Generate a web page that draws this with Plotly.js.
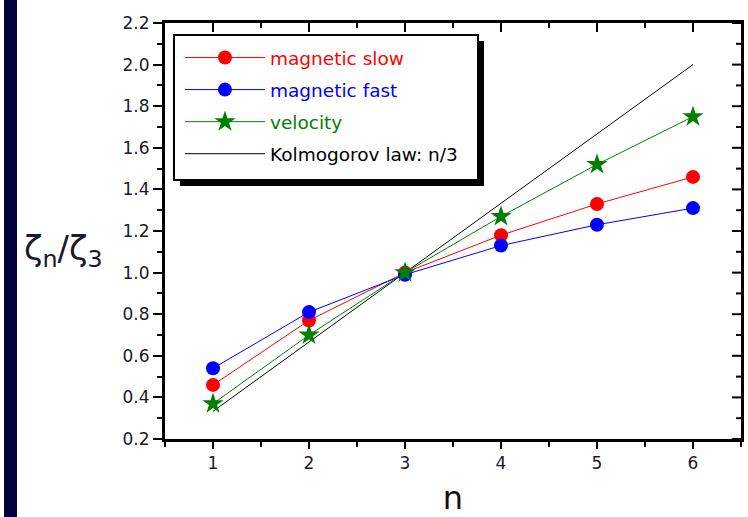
<!DOCTYPE html>
<html><head><meta charset="utf-8">
<script src="https://cdn.plot.ly/plotly-3.0.1.min.js"></script>
<style>
body{margin:0;background:#fff}
#strip{position:absolute;left:4px;top:0;width:13px;height:517px;background:#00003a;z-index:10}
</style>
</head><body>
<div id="strip"></div>
<div id="chart" style="width:748px;height:517px"></div>
<script>
const n = [1, 2, 3, 4, 5, 6];
const magSlow = [0.46, 0.77, 1.00, 1.18, 1.33, 1.46];
const magFast = [0.54, 0.81, 0.99, 1.13, 1.23, 1.31];
const velocity = [0.37, 0.70, 1.00, 1.27, 1.52, 1.75];
const kolmogorov = [0.333, 0.667, 1.000, 1.333, 1.667, 2.000];
const yTickVals = [0.2, 0.4, 0.6, 0.8, 1.0, 1.2, 1.4, 1.6, 1.8, 2.0, 2.2];
const yTickText = ['0.2','0.4','0.6','0.8','1.0','1.2','1.4','1.6','1.8','2.0','2.2'];
const yMinorVals = [0.3, 0.5, 0.7, 0.9, 1.1, 1.3, 1.5, 1.7, 1.9, 2.1];
const xTickVals = [1, 2, 3, 4, 5, 6];
const xMinorVals = [1.5, 2.5, 3.5, 4.5, 5.5];
const names = ['magnetic slow', 'magnetic fast', 'velocity', 'Kolmogorov law: n/3'];

const traces = [
  {x: n, y: kolmogorov, mode: 'lines', line: {color: 'black', width: 1},
   name: '<span style="color:black">' + names[3] + '</span>', legendrank: 4, legendgroup: 'd'},
  {x: n, y: magSlow, mode: 'lines+markers', line: {color: '#ff0000', width: 1},
   marker: {symbol: 'circle', size: 14, color: '#ff0000'},
   name: '<span style="color:#ff0000">' + names[0] + '</span>', legendrank: 1, legendgroup: 'a'},
  {x: n, y: magFast, mode: 'lines+markers', line: {color: '#0000ff', width: 1},
   marker: {symbol: 'circle', size: 14, color: '#0000ff'},
   name: '<span style="color:#0000ff">' + names[1] + '</span>', legendrank: 2, legendgroup: 'b'},
  {x: n, y: velocity, mode: 'lines+markers', line: {color: '#008000', width: 1},
   marker: {symbol: 'star', size: 16, color: '#008000'},
   name: '<span style="color:#008000">' + names[2] + '</span>', legendrank: 3, legendgroup: 'c'}
];

// inside tick marks on the top and right frame edges (Origin style), placed via the axes
function topTick(v, len) {
  return {type: 'line', xref: 'x', yref: 'paper', ysizemode: 'pixel', yanchor: 1,
    x0: v, x1: v, y0: 0, y1: -len, line: {color: 'black', width: 2}, layer: 'above'};
}
function rightTick(v, len) {
  return {type: 'line', xref: 'paper', yref: 'y', xsizemode: 'pixel', xanchor: 1,
    x0: 0, x1: -len, y0: v, y1: v, line: {color: 'black', width: 2}, layer: 'above'};
}
const frameTicks = [].concat(
  xTickVals.map(v => topTick(v, 9)),
  xMinorVals.map(v => topTick(v, 5)),
  yTickVals.map(v => rightTick(v, 9)),
  yMinorVals.map(v => rightTick(v, 5))
);

const axFont = {family: 'DejaVu Sans', size: 17, color: '#1a1a2a'};
const layout = {
  width: 748, height: 517,
  margin: {l: 165, r: 7, t: 23, b: 78},
  paper_bgcolor: 'white', plot_bgcolor: 'white',
  showlegend: true,
  legend: {x: 0.026, y: 0.9615, xanchor: 'left', yanchor: 'top',
    bgcolor: 'rgba(0,0,0,0)', borderwidth: 0,
    font: {family: 'DejaVu Sans', size: 18.5}, traceorder: 'grouped', tracegroupgap: 5,
    itemwidth: 80},
  xaxis: {range: [0.5, 6.5], tickvals: xTickVals, ticktext: xTickVals.map(String),
    showgrid: false, zeroline: false, showline: true, linecolor: 'black', linewidth: 3,
    mirror: true, ticks: 'outside', ticklen: 7, tickwidth: 2, tickcolor: 'black',
    tickfont: axFont,
    minor: {dtick: 0.5, tick0: 0.5, ticks: 'outside', ticklen: 5, tickwidth: 2, tickcolor: 'black'},
    title: {text: 'n', font: {family: 'DejaVu Sans', size: 32, color: '#111'}, standoff: 18}},
  yaxis: {range: [0.2, 2.2], tickvals: yTickVals, ticktext: yTickText,
    showgrid: false, zeroline: false, showline: true, linecolor: 'black', linewidth: 3,
    mirror: true, ticks: 'outside', ticklen: 9, tickwidth: 2, tickcolor: 'black',
    tickfont: axFont,
    minor: {dtick: 0.1, tick0: 0.1, ticks: 'outside', ticklen: 5, tickwidth: 2, tickcolor: 'black'}},
  shapes: frameTicks.concat([
    {type: 'rect', xref: 'paper', yref: 'paper', x0: 0.026, x1: 0.5538, y0: 0.6082, y1: 0.9567,
     fillcolor: 'black', line: {width: 0}, layer: 'above'},
    {type: 'rect', xref: 'paper', yref: 'paper', x0: 0.0156, x1: 0.5434, y0: 0.6226, y1: 0.9712,
     fillcolor: 'white', line: {color: 'black', width: 2}, layer: 'above'}
  ]),
  annotations: [{xref: 'paper', yref: 'paper', x: -0.177, y: 0.452, xanchor: 'center', yanchor: 'middle',
    showarrow: false, text: 'ζ<sub>n</sub>/ζ<sub>3</sub>',
    font: {family: 'DejaVu Sans', size: 34, color: '#1a1a2a'}}]
};

Plotly.newPlot('chart', traces, layout, {displayModeBar: false, staticPlot: true});
</script>
</body></html>
